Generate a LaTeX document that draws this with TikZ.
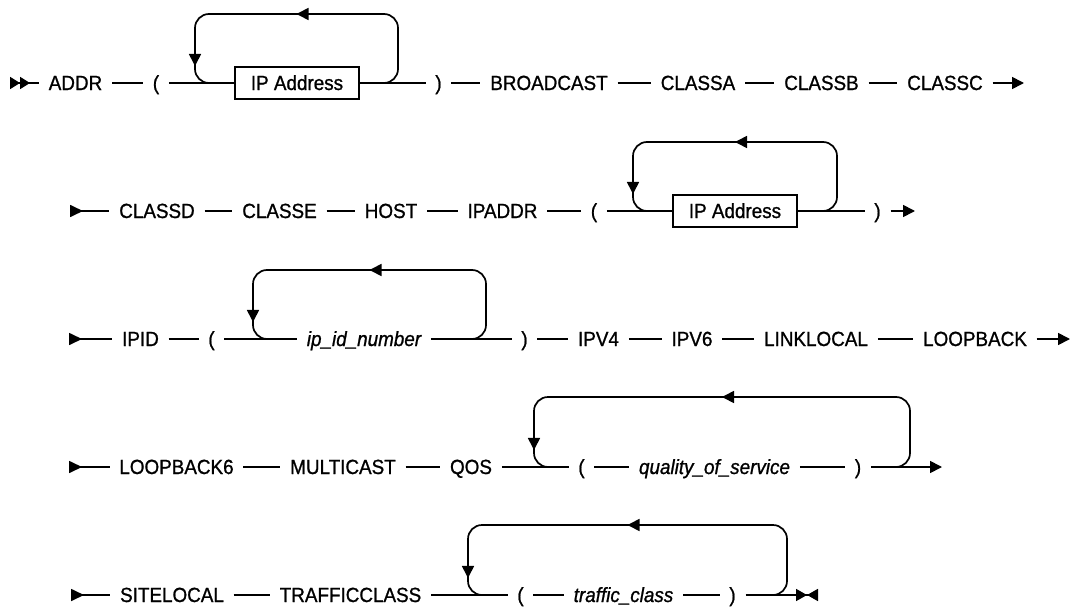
\documentclass[tikz,border=0pt]{standalone}
\usepackage{fontspec}
\setmainfont[FakeStretch=0.92, FakeBold=1]{Liberation Sans}
\usetikzlibrary{arrows.meta,decorations.markings}

\begin{document}
\begin{tikzpicture}[x=1pt, y=-1pt, line width=1.7pt,
  syn/.style={inner xsep=9pt, inner ysep=0pt, text height=14pt, text depth=0pt,
    font=\fontsize{20.5}{23}\selectfont},
  var/.style={syn, font=\fontsize{20.5}{23}\selectfont\itshape},
  ref/.style={syn, draw, minimum width=124pt, minimum height=32pt},
  back/.style={rounded corners=14pt, postaction={decorate},
    decoration={markings,
      mark=at position 0.5 with {\arrow{Triangle[length=12pt, width=12pt]}},
      mark=at position -27pt with {\arrow{Triangle[length=12pt, width=12pt]}}}}]

\useasboundingbox (0,0) rectangle (1073,610);

% ------------------ row 1 ------------------
\coordinate (r1s) at (10,83);
\node[syn] (addr)  at (75.5,83) {ADDR};
\node[syn] (lp1)   at (156,83)  {(};
\node[ref] (ipa1)  at (297,83)  {IP Address};
\node[syn] (rp1)   at (438.5,83) {)};
\node[syn] (bcast) at (549,83)  {BROADCAST};
\node[syn] (clsa)  at (698,83)  {CLASSA};
\node[syn] (clsb)  at (821.5,83) {CLASSB};
\node[syn] (clsc)  at (945,83)  {CLASSC};
\coordinate (r1e) at (1024,83);

\draw[{Triangle[reversed, length=10pt, width=12pt, sep=0pt]Triangle[reversed, length=10pt, width=12pt]}-] (r1s) -- (addr);
\draw (addr) -- (lp1) (lp1) -- (ipa1) (ipa1) -- (rp1) (rp1) -- (bcast)
      (bcast) -- (clsa) (clsa) -- (clsb) (clsb) -- (clsc);
\draw[-{Triangle[length=12pt, width=12pt]}] (clsc) -- (r1e);
% repeat loop
\draw[back] (382,83) -| (398,14) -| (195,83) -- (211,83);

% ------------------ row 2 ------------------
\coordinate (r2s) at (70,211);
\node[syn] (clsd)   at (157,211)   {CLASSD};
\node[syn] (clse)   at (279.5,211) {CLASSE};
\node[syn] (host)   at (391,211)   {HOST};
\node[syn] (ipaddr) at (502.5,211) {IPADDR};
\node[syn] (lp2)    at (594,211)   {(};
\node[ref] (ipa2)   at (735,211)   {IP Address};
\node[syn] (rp2)    at (877.5,211) {)};
\coordinate (r2e) at (915,211);

\draw[{Triangle[reversed, length=13pt, width=12pt]}-] (r2s) -- (clsd);
\draw (clsd) -- (clse) (clse) -- (host) (host) -- (ipaddr) (ipaddr) -- (lp2)
      (lp2) -- (ipa2) (ipa2) -- (rp2);
\draw[-{Triangle[length=12pt, width=12pt]}] (rp2) -- (r2e);
\draw[back] (821,211) -| (837,142) -| (633,211) -- (649,211);

% ------------------ row 3 ------------------
\coordinate (r3s) at (69,339);
\node[syn] (ipid)  at (140.5,339) {IPID};
\node[syn] (lp3)   at (211.5,339) {(};
\node[var] (idnum) at (364,339)   {ip\_id\_number};
\node[syn] (rp3)   at (524.5,339) {)};
\node[syn] (ipv4)  at (598.5,339) {IPV4};
\node[syn] (ipv6)  at (692,339)   {IPV6};
\node[syn] (llcl)  at (816,339)   {LINKLOCAL};
\node[syn] (lpbk)  at (975,339)   {LOOPBACK};
\coordinate (r3e) at (1070,339);

\draw[{Triangle[reversed, length=13pt, width=12pt]}-] (r3s) -- (ipid);
\draw (ipid) -- (lp3) (lp3) -- (idnum) (idnum) -- (rp3) (rp3) -- (ipv4)
      (ipv4) -- (ipv6) (ipv6) -- (llcl) (llcl) -- (lpbk);
\draw[-{Triangle[length=12pt, width=12pt]}] (lpbk) -- (r3e);
\draw[back] (470,339) -| (486,270) -| (253,339) -- (269,339);

% ------------------ row 4 ------------------
\coordinate (r4s) at (69,467);
\node[syn] (lpbk6) at (176.5,467) {LOOPBACK6};
\node[syn] (mcast) at (343,467)   {MULTICAST};
\node[syn] (qos)   at (471,467)   {QOS};
\node[syn] (lp4)   at (581.5,467) {(};
\node[var] (qsvc)  at (714.5,467) {quality\_of\_service};
\node[syn] (rp4)   at (858,467)   {)};
\coordinate (r4e) at (942,467);

\draw[{Triangle[reversed, length=13pt, width=12pt]}-] (r4s) -- (lpbk6);
\draw (lpbk6) -- (mcast) (mcast) -- (qos) (qos) -- (lp4) (lp4) -- (qsvc)
      (qsvc) -- (rp4);
\draw[-{Triangle[length=12pt, width=12pt]}] (rp4) -- (r4e);
\draw[back] (894,467) -| (910,397) -| (534,467) -- (550,467);

% ------------------ row 5 ------------------
\coordinate (r5s) at (71,595);
\node[syn] (slcl)  at (172,595)   {SITELOCAL};
\node[syn] (tcls)  at (350.5,595) {TRAFFICCLASS};
\node[syn] (lp5)   at (520.5,595) {(};
\node[var] (tcv)   at (623.5,595) {traffic\_class};
\node[syn] (rp5)   at (732.5,595) {)};
\coordinate (r5e) at (818,595);

\draw[{Triangle[reversed, length=13pt, width=12pt]}-] (r5s) -- (slcl);
\draw (slcl) -- (tcls) (tcls) -- (lp5) (lp5) -- (tcv) (tcv) -- (rp5);
\draw[-{Triangle[length=11pt, width=12pt, sep=0pt]Triangle[reversed, length=11pt, width=12pt]}] (rp5) -- (r5e);
\draw[back] (771,595) -| (787,525) -| (468,595) -- (484,595);

\end{tikzpicture}
\end{document}
